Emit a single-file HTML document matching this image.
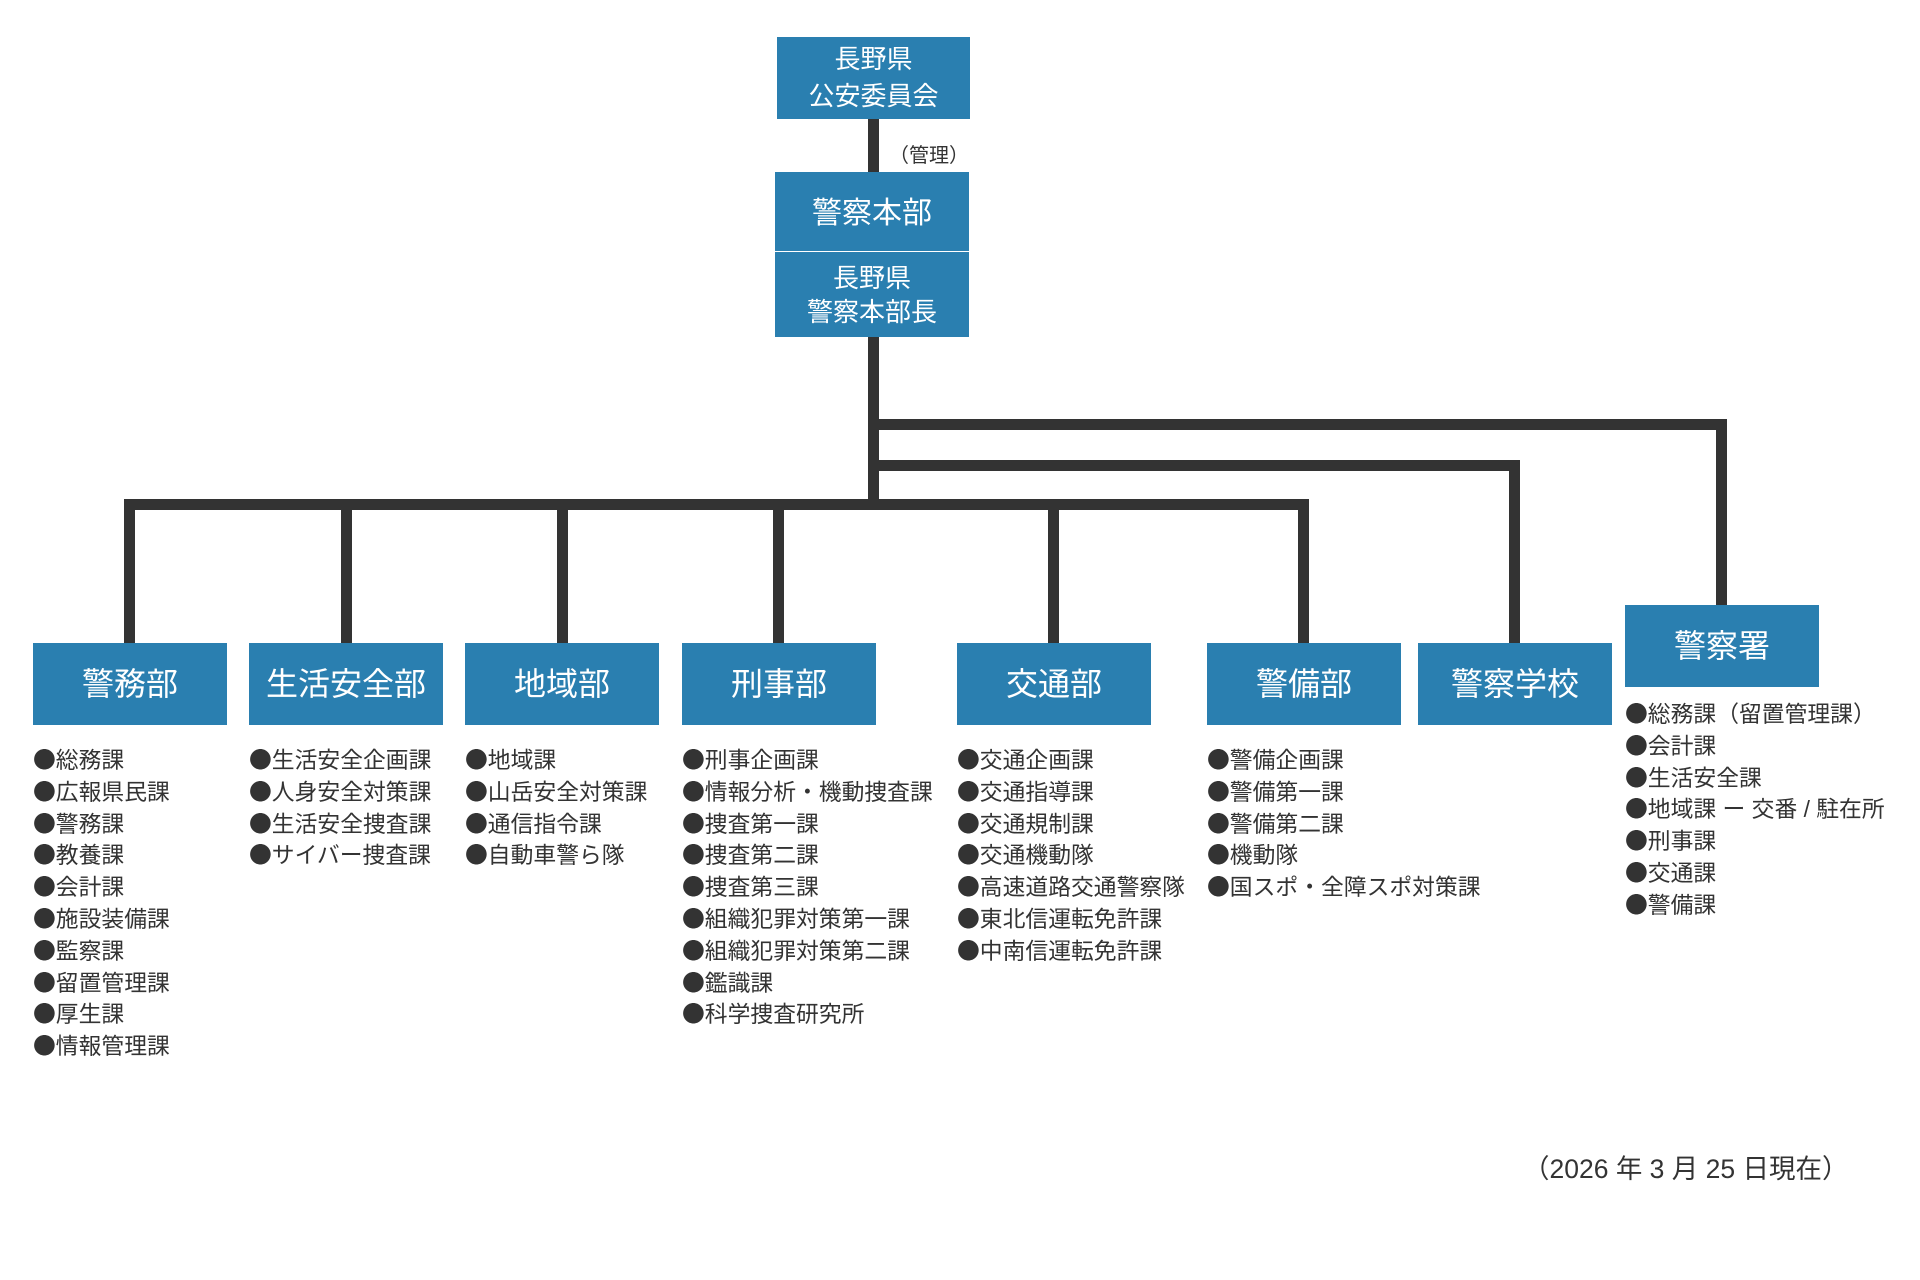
<!DOCTYPE html>
<html lang="ja">
<head>
<meta charset="utf-8">
<style>
  html, body { margin:0; padding:0; }
  body {
    width:1920px; height:1280px; position:relative; overflow:hidden;
    background:#ffffff;
    font-family:"Liberation Sans","Noto Sans CJK JP",sans-serif;
  }
  .l { position:absolute; background:#333333; }
  .b {
    position:absolute; background:#2a7fb0; color:#ffffff;
    display:flex; align-items:center; justify-content:center; text-align:center;
    white-space:nowrap; box-sizing:border-box; padding-bottom:5px;
  }
  .d { top:643px; width:194px; height:82px; font-size:32px; }
  .ls {
    position:absolute; font-size:22.8px; line-height:31.8px; color:#333333;
    white-space:nowrap;
  }
  .ls div { height:31.8px; line-height:31.8px; }
  .ls i { font-style:normal; font-family:"Noto Sans CJK JP",sans-serif; line-height:1; }
</style>
</head>
<body>

<!-- connector lines -->
<div class="l" style="left:868px;top:119px;width:11px;height:53px;"></div>
<div class="l" style="left:868px;top:337px;width:11px;height:173px;"></div>
<div class="l" style="left:868px;top:419px;width:859px;height:11px;"></div>
<div class="l" style="left:1716px;top:419px;width:11px;height:186px;"></div>
<div class="l" style="left:868px;top:460px;width:652px;height:11px;"></div>
<div class="l" style="left:1509px;top:460px;width:11px;height:183px;"></div>
<div class="l" style="left:124px;top:499px;width:1184px;height:11px;"></div>
<div class="l" style="left:124px;top:499px;width:11px;height:144px;"></div>
<div class="l" style="left:341px;top:499px;width:11px;height:144px;"></div>
<div class="l" style="left:557px;top:499px;width:11px;height:144px;"></div>
<div class="l" style="left:773px;top:499px;width:11px;height:144px;"></div>
<div class="l" style="left:1048px;top:499px;width:11px;height:144px;"></div>
<div class="l" style="left:1298px;top:499px;width:11px;height:144px;"></div>

<!-- top boxes -->
<div class="b" style="left:777px;top:37px;width:193px;height:82px;font-size:26px;line-height:37px;padding-bottom:0px;">長野県<br>公安委員会</div>
<div style="position:absolute;left:889px;top:146px;font-size:20px;line-height:20px;color:#333;white-space:nowrap;">（管理）</div>
<div class="b" style="left:775px;top:172px;width:194px;height:79px;font-size:30px;padding-bottom:4px;">警察本部</div>
<div class="b" style="left:775px;top:252px;width:194px;height:85px;font-size:26px;line-height:34px;padding-bottom:0px;">長野県<br>警察本部長</div>

<!-- department boxes -->
<div class="b d" style="left:33px;">警務部</div>
<div class="b d" style="left:249px;">生活安全部</div>
<div class="b d" style="left:465px;">地域部</div>
<div class="b d" style="left:682px;">刑事部</div>
<div class="b d" style="left:957px;">交通部</div>
<div class="b d" style="left:1207px;">警備部</div>
<div class="b d" style="left:1418px;">警察学校</div>
<div class="b" style="left:1625px;top:605px;width:194px;height:82px;font-size:32px;">警察署</div>

<!-- lists -->
<div class="ls" style="left:33px;top:745px;">
<div><i>●</i>総務課</div><div><i>●</i>広報県民課</div><div><i>●</i>警務課</div><div><i>●</i>教養課</div><div><i>●</i>会計課</div><div><i>●</i>施設装備課</div><div><i>●</i>監察課</div><div><i>●</i>留置管理課</div><div><i>●</i>厚生課</div><div><i>●</i>情報管理課</div>
</div>
<div class="ls" style="left:249px;top:745px;">
<div><i>●</i>生活安全企画課</div><div><i>●</i>人身安全対策課</div><div><i>●</i>生活安全捜査課</div><div><i>●</i>サイバー捜査課</div>
</div>
<div class="ls" style="left:465px;top:745px;">
<div><i>●</i>地域課</div><div><i>●</i>山岳安全対策課</div><div><i>●</i>通信指令課</div><div><i>●</i>自動車警ら隊</div>
</div>
<div class="ls" style="left:682px;top:745px;">
<div><i>●</i>刑事企画課</div><div><i>●</i>情報分析・機動捜査課</div><div><i>●</i>捜査第一課</div><div><i>●</i>捜査第二課</div><div><i>●</i>捜査第三課</div><div><i>●</i>組織犯罪対策第一課</div><div><i>●</i>組織犯罪対策第二課</div><div><i>●</i>鑑識課</div><div><i>●</i>科学捜査研究所</div>
</div>
<div class="ls" style="left:957px;top:745px;">
<div><i>●</i>交通企画課</div><div><i>●</i>交通指導課</div><div><i>●</i>交通規制課</div><div><i>●</i>交通機動隊</div><div><i>●</i>高速道路交通警察隊</div><div><i>●</i>東北信運転免許課</div><div><i>●</i>中南信運転免許課</div>
</div>
<div class="ls" style="left:1207px;top:745px;">
<div><i>●</i>警備企画課</div><div><i>●</i>警備第一課</div><div><i>●</i>警備第二課</div><div><i>●</i>機動隊</div><div><i>●</i>国スポ・全障スポ対策課</div>
</div>
<div class="ls" style="left:1625px;top:699px;">
<div><i>●</i>総務課（留置管理課）</div><div><i>●</i>会計課</div><div><i>●</i>生活安全課</div><div><i>●</i>地域課 ー 交番 / 駐在所</div><div><i>●</i>刑事課</div><div><i>●</i>交通課</div><div><i>●</i>警備課</div>
</div>

<!-- date -->
<div style="position:absolute;left:1523px;top:1154px;font-size:26.5px;line-height:30px;color:#333;white-space:nowrap;">（2026 年 3 月 25 日現在）</div>

</body>
</html>
